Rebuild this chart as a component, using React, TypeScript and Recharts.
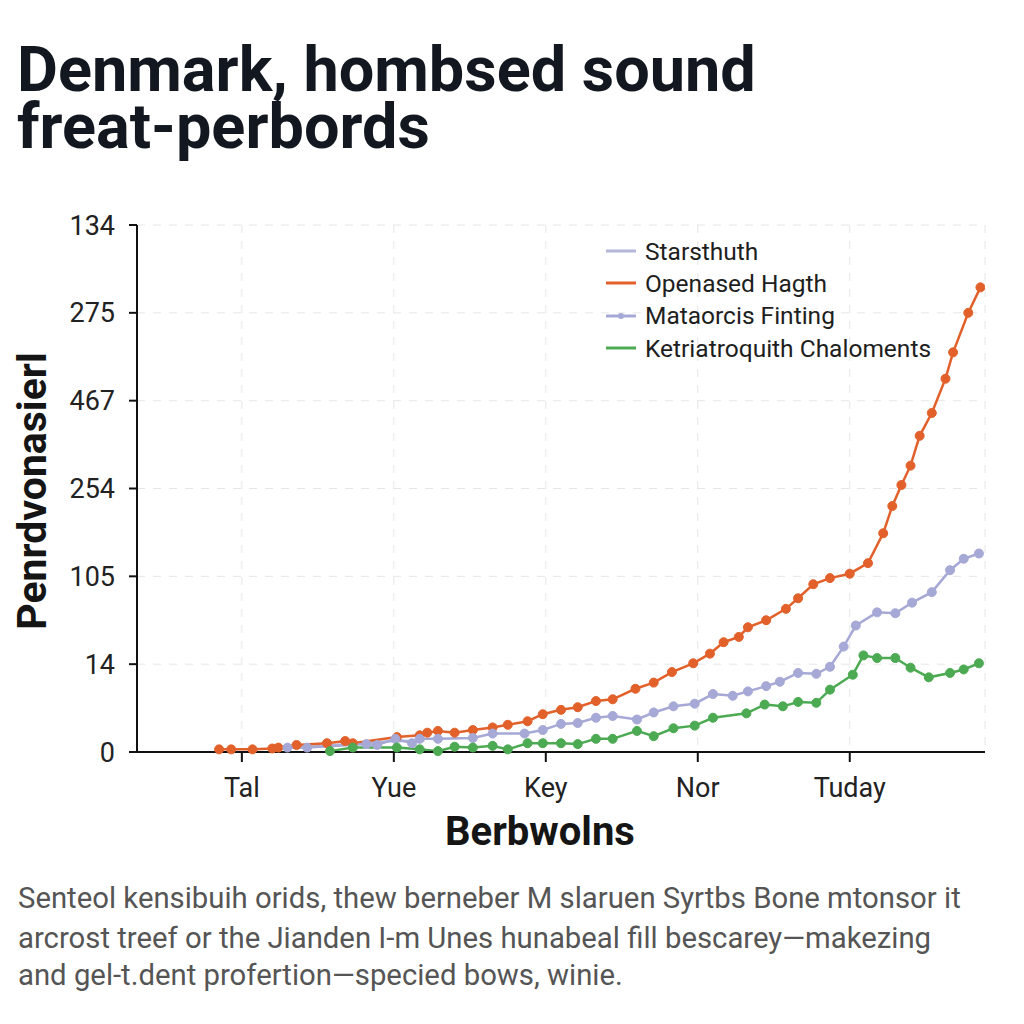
import React from 'react';
import { LineChart, Line, XAxis, YAxis, CartesianGrid, Legend } from 'recharts';

// x positions are in "period" units: Tal=10, Yue=20, Key=30, Nor=40, Tuday=50
const X_TICKS = [10, 20, 30, 40, 50];
const X_LABELS = ['Tal', 'Yue', 'Key', 'Nor', 'Tuday'];
// y ticks are evenly spaced; the printed labels are not monotonic
const Y_TICKS = [0, 1, 2, 3, 4, 5, 6];
const Y_LABELS = ['0', '14', '105', '254', '467', '275', '134'];

const STARS_X = [12.5, 14.5, 17.0, 19.5, 22.0];
const STARS_Y = [0.04, 0.06, 0.09, 0.12, 0.13];

const OPEN_X = [8.5, 9.3, 10.7, 12.0, 12.4, 13.6, 15.6, 16.8, 17.3, 20.2, 21.7, 22.2, 22.9, 24.0, 25.2, 26.5, 27.5, 28.8, 29.8, 31.0, 32.1, 33.3, 34.4, 35.9, 37.1, 38.3, 39.7, 40.8, 41.7, 42.7, 43.3, 44.5, 45.8, 46.6, 47.6, 48.7, 50.0, 51.2, 52.2, 52.8, 53.4, 54.0, 54.6, 55.4, 56.3, 56.8, 57.8, 58.6];
const OPEN_Y = [0.03, 0.03, 0.03, 0.04, 0.05, 0.08, 0.1, 0.125, 0.1, 0.17, 0.19, 0.22, 0.24, 0.22, 0.25, 0.28, 0.31, 0.35, 0.43, 0.48, 0.51, 0.58, 0.6, 0.72, 0.79, 0.91, 1.01, 1.12, 1.25, 1.31, 1.42, 1.5, 1.63, 1.75, 1.91, 1.98, 2.03, 2.15, 2.49, 2.8, 3.04, 3.26, 3.6, 3.86, 4.25, 4.55, 5.0, 5.29];

const MATA_X = [13.0, 14.3, 18.2, 18.9, 20.1, 21.2, 21.7, 22.9, 25.2, 26.5, 28.6, 29.8, 31.0, 32.1, 33.3, 34.4, 36.0, 37.1, 38.4, 39.8, 41.0, 42.3, 43.3, 44.5, 45.4, 46.6, 47.8, 48.7, 49.6, 50.4, 51.8, 53.0, 54.1, 55.4, 56.6, 57.5, 58.5];
const MATA_Y = [0.05, 0.05, 0.09, 0.08, 0.15, 0.1, 0.15, 0.15, 0.16, 0.21, 0.21, 0.25, 0.32, 0.33, 0.39, 0.41, 0.37, 0.45, 0.52, 0.55, 0.66, 0.64, 0.69, 0.75, 0.8, 0.9, 0.89, 0.97, 1.2, 1.44, 1.59, 1.58, 1.7, 1.82, 2.07, 2.2, 2.26];

const KETR_X = [15.8, 17.3, 20.2, 21.7, 22.9, 24.0, 25.2, 26.5, 27.5, 28.8, 29.8, 31.0, 32.1, 33.3, 34.4, 36.0, 37.1, 38.4, 39.8, 41.0, 43.2, 44.4, 45.6, 46.6, 47.8, 48.7, 50.2, 50.9, 51.8, 53.0, 54.0, 55.2, 56.6, 57.5, 58.5];
const KETR_Y = [0.01, 0.05, 0.05, 0.03, 0.01, 0.06, 0.05, 0.07, 0.03, 0.1, 0.1, 0.1, 0.09, 0.15, 0.15, 0.24, 0.18, 0.27, 0.3, 0.39, 0.44, 0.54, 0.52, 0.57, 0.56, 0.71, 0.88, 1.1, 1.07, 1.07, 0.96, 0.85, 0.9, 0.94, 1.01];

const toPoints = (xs: number[], ys: number[]) => xs.map((x, i) => ({ x, y: ys[i] }));

const SERIES = [
  { name: 'Starsthuth', color: '#b4b6da', data: toPoints(STARS_X, STARS_Y), dot: false },
  { name: 'Openased Hagth', color: '#e2612b', data: toPoints(OPEN_X, OPEN_Y), dot: true },
  { name: 'Mataorcis Finting', color: '#a6a9d6', data: toPoints(MATA_X, MATA_Y), dot: true },
  { name: 'Ketriatroquith Chaloments', color: '#4caa52', data: toPoints(KETR_X, KETR_Y), dot: true },
];

const FONT = 'Roboto, "Noto Sans", sans-serif';

const LegendBox = () => (
  <div style={{ fontFamily: FONT }}>
    {SERIES.map((s) => (
      <div key={s.name} style={{ display: 'flex', alignItems: 'center', height: 32.3 }}>
        <svg width={30} height={10}>
          <line x1={0} y1={5} x2={30} y2={5} stroke={s.color} strokeWidth={3} />
          {s.name === 'Mataorcis Finting' && <circle cx={15} cy={5} r={3} fill={s.color} />}
        </svg>
        <span style={{ marginLeft: 9, fontSize: 24.5, color: '#1e1e1e' }}>{s.name}</span>
      </div>
    ))}
  </div>
);

const YTitle = () => (
  <text
    x={46}
    y={491}
    transform="rotate(-90, 46, 491)"
    textAnchor="middle"
    fontFamily={FONT}
    fontWeight={700}
    fontSize={41}
    fill="#151515"
  >
    Penrdvonasierl
  </text>
);

const XTitle = () => (
  <text x={540} y={845} textAnchor="middle" fontFamily={FONT} fontWeight={700} fontSize={40} fill="#151515">
    Berbwolns
  </text>
);

const titleStyle: React.CSSProperties = {
  position: 'absolute',
  left: 17,
  fontSize: 63,
  lineHeight: '56px',
  fontWeight: 700,
  color: '#131820',
  whiteSpace: 'nowrap',
};

const captionStyle: React.CSSProperties = {
  position: 'absolute',
  left: 18,
  fontSize: 29.3,
  lineHeight: '36px',
  color: '#555',
  whiteSpace: 'nowrap',
};

const App: React.FC = () => {
  return (
    <div style={{ position: 'absolute', left: 0, top: 0, width: 1024, height: 1024, background: '#fff', fontFamily: FONT }}>
      <div style={{ ...titleStyle, top: 42 }}>Denmark, hombsed sound</div>
      <div style={{ ...titleStyle, top: 99 }}>freat-perbords</div>

      <div style={{ position: 'absolute', left: 0, top: 0 }}>
        <LineChart width={1024} height={1024} margin={{ top: 225, right: 39, bottom: 232, left: 57 }}>
          <CartesianGrid stroke="#e6e6e6" strokeDasharray="8 8" />
          <XAxis
            dataKey="x"
            type="number"
            domain={[3.1, 58.9]}
            ticks={X_TICKS}
            allowDataOverflow
            height={40}
            tickFormatter={(v: number) => X_LABELS[X_TICKS.indexOf(v)]}
            tick={{ fontSize: 27, fill: '#222', fontFamily: FONT }}
            tickSize={10}
            tickMargin={16}
            axisLine={{ stroke: '#111', strokeWidth: 2 }}
            tickLine={{ stroke: '#111', strokeWidth: 2 }}
            label={<XTitle />}
          />
          <YAxis
            type="number"
            domain={[0, 6]}
            ticks={Y_TICKS}
            width={80}
            tickFormatter={(v: number) => Y_LABELS[v]}
            tick={{ fontSize: 27, fill: '#222', fontFamily: FONT }}
            tickSize={8}
            tickMargin={14}
            axisLine={{ stroke: '#111', strokeWidth: 2 }}
            tickLine={{ stroke: '#111', strokeWidth: 2 }}
            label={<YTitle />}
          />
          <Legend
            layout="vertical"
            align="center"
            verticalAlign="middle"
            content={<LegendBox />}
            wrapperStyle={{ top: 235, left: 606, width: 400 }}
          />
          {SERIES.map((s) => (
            <Line
              key={s.name}
              name={s.name}
              data={s.data}
              dataKey="y"
              type="linear"
              stroke={s.color}
              strokeWidth={2.5}
              dot={s.dot ? { r: 4.5, fill: s.color, stroke: s.color, strokeWidth: 1 } : false}
              activeDot={false}
              isAnimationActive={false}
            />
          ))}
        </LineChart>
      </div>

      <div style={{ ...captionStyle, top: 880 }}>Senteol kensibuih orids, thew berneber M slaruen Syrtbs Bone mtonsor it</div>
      <div style={{ ...captionStyle, top: 920 }}>arcrost treef or the Jianden I-m Unes hunabeal fill bescarey—makezing</div>
      <div style={{ ...captionStyle, top: 957 }}>and gel-t.dent profertion—specied bows, winie.</div>
    </div>
  );
};

export default App;
